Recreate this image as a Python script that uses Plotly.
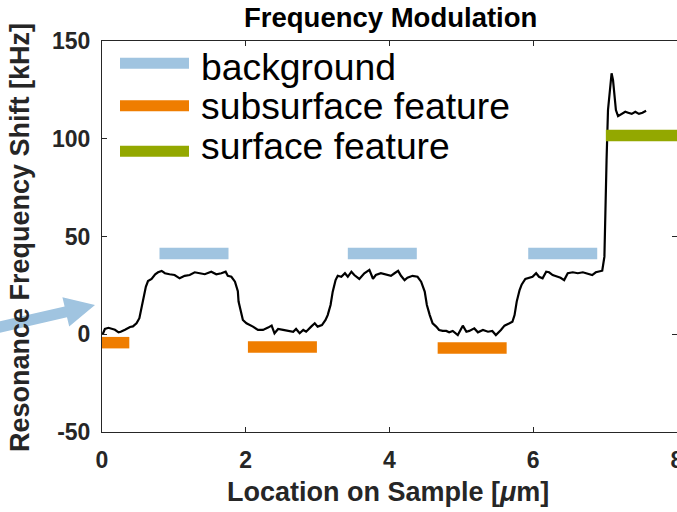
import plotly.graph_objects as go

# ---- data ----
x_loc = [0.01, 0.04, 0.09, 0.13, 0.18, 0.23, 0.26, 0.32, 0.39, 0.43, 0.48, 0.52, 0.55, 0.58, 0.61,
         0.64, 0.69, 0.74, 0.78, 0.83, 0.875, 0.94, 1.01, 1.08, 1.15, 1.22, 1.29, 1.36, 1.43, 1.52,
         1.59, 1.66, 1.72, 1.75, 1.80, 1.85, 1.89, 1.90, 1.93, 1.96, 2.01, 2.06, 2.10, 2.17, 2.24,
         2.31, 2.36, 2.40, 2.45, 2.52, 2.59, 2.66, 2.70, 2.75, 2.80, 2.84, 2.91, 2.96, 3.00, 3.06,
         3.11, 3.14, 3.18, 3.21, 3.25, 3.28, 3.33, 3.38, 3.42, 3.47, 3.51, 3.58, 3.65, 3.72, 3.77,
         3.81, 3.88, 3.95, 4.02, 4.07, 4.12, 4.16, 4.21, 4.25, 4.32, 4.39, 4.44, 4.49, 4.52, 4.56,
         4.60, 4.65, 4.69, 4.74, 4.79, 4.83, 4.88, 4.95, 5.02, 5.07, 5.11, 5.18, 5.23, 5.30, 5.37,
         5.43, 5.48, 5.55, 5.60, 5.67, 5.71, 5.74, 5.77, 5.81, 5.84, 5.89, 5.94, 5.99, 6.04, 6.08,
         6.13, 6.18, 6.22, 6.27, 6.34, 6.38, 6.43, 6.48, 6.55, 6.62, 6.69, 6.75, 6.82, 6.87, 6.92,
         6.96, 6.99, 7.00, 7.02, 7.04, 7.07, 7.09, 7.11, 7.13, 7.15, 7.18, 7.23, 7.28, 7.32, 7.37,
         7.42, 7.47, 7.52, 7.57]
shift_khz = [0.0, 2.7, 3.3, 2.7, 2.3, 1.0, 1.3, 2.3, 3.7, 4.0, 5.6, 8.2, 13.3, 18.4, 24.3,
             27.2, 28.3, 30.7, 31.7, 32.4, 31.2, 30.7, 30.3, 28.6, 29.9, 30.3, 31.7, 31.2, 30.7, 32.0,
             30.7, 31.2, 32.0, 29.9, 29.4, 26.9, 22.0, 16.7, 11.5, 7.3, 5.6, 4.7, 3.9, 2.2, 2.2,
             3.4, 4.4, 0.5, 2.7, 2.2, 1.7, 1.3, 2.7, 0.5, 2.2, 1.3, 3.9, 5.6, 3.9, 4.7,
             7.3, 9.8, 15.0, 21.8, 27.7, 29.9, 29.4, 31.2, 29.4, 32.0, 30.3, 28.3, 31.2, 32.9, 28.4,
             30.3, 31.2, 30.7, 29.9, 31.2, 32.4, 29.9, 27.7, 28.9, 29.9, 29.4, 26.9, 21.8, 15.0, 9.8,
             5.6, 3.9, 2.2, 1.7, 1.7, 1.0, 1.7, -0.4, 4.4, 1.3, 1.7, 3.0, 1.0, 2.2, 1.3,
             1.7, -0.4, 2.2, 4.4, 5.6, 6.4, 9.8, 16.7, 22.6, 25.5, 28.3, 28.9, 29.4, 31.2, 29.4,
             28.6, 32.0, 31.7, 30.3, 29.4, 28.9, 27.7, 31.2, 31.7, 31.2, 31.7, 31.2, 30.3, 31.7, 32.0,
             32.5, 39.7, 63.5, 89.0, 114.7, 126.6, 133.5, 130.0, 121.5, 114.7, 111.6, 112.7, 113.8, 113.3, 112.7,
             113.8, 112.7, 113.3, 114.3]

bg_x0 = [0.80, 3.42, 5.93]
bg_x1 = [1.76, 4.38, 6.89]
bg_y = [41.3, 41.3, 41.3]
sub_x0 = [-0.04, 2.03, 4.67]
sub_x1 = [0.38, 2.99, 5.63]
sub_y = [-4.3, -6.5, -7.0]
surf_x0 = [7.01]
surf_x1 = [8.0]
surf_y = [101.6]

legend_labels = ["background", "subsurface feature", "surface feature"]
x_ticks = [0, 2, 4, 6, 8]
y_ticks = [-50, 0, 50, 100, 150]

title_text = "Frequency Modulation"
x_title = "Location on Sample [<i>μ</i>m]"
y_title = "Resonance Frequency Shift [kHz]"

# ---- styling ----
W, H = 677, 512
ML, MR, MT, MB = 102, 0, 41, 80
PW, PH = W - ML - MR, H - MT - MB
C_BG = "#a0c4e0"
C_SUB = "#ef7d00"
C_SURF = "#93a800"
AX = "#262626"
FONT = "Liberation Sans, Arial, sans-serif"


def P(px, py):
    return (px - ML) / PW, (H - MB - py) / PH


fig = go.Figure()
fig.add_trace(go.Scatter(x=x_loc, y=shift_khz, mode="lines",
                         line=dict(color="black", width=2.2), showlegend=False,
                         hoverinfo="skip"))

shapes = []
for x0s, x1s, ys, col in [(bg_x0, bg_x1, bg_y, C_BG), (sub_x0, sub_x1, sub_y, C_SUB),
                          (surf_x0, surf_x1, surf_y, C_SURF)]:
    for a, b, yv in zip(x0s, x1s, ys):
        shapes.append(dict(type="line", xref="x", yref="y", x0=a, x1=b, y0=yv, y1=yv,
                           line=dict(color=col, width=11.5), layer="above"))

# legend (drawn manually)
leg_line_y = [63.3, 105.8, 151.2]
leg_text_y = [67, 106, 146]
leg_cols = [C_BG, C_SUB, C_SURF]
annotations = []
for lab, ly, ty, col in zip(legend_labels, leg_line_y, leg_text_y, leg_cols):
    x0p, y0p = P(120, ly)
    x1p, _ = P(189, ly)
    shapes.append(dict(type="line", xref="paper", yref="paper", x0=x0p, x1=x1p, y0=y0p, y1=y0p,
                       line=dict(color=col, width=11), layer="above"))
    tx, typ = P(199, ty)
    annotations.append(dict(text=lab, xref="paper", yref="paper", x=tx, y=typ,
                            xanchor="left", yanchor="middle", showarrow=False,
                            font=dict(family=FONT, size=37.3, color="black")))

# arrow (outside the axes, left)
arrow_pts = [(-6.2, 322.8), (64.6, 306.4), (62.4, 297.2), (95, 305), (69.2, 326.4),
             (67.0, 317.2), (-3.8, 333.6)]
path = "M " + " L ".join("%.5f,%.5f" % P(a, b) for a, b in arrow_pts) + " Z"
shapes.append(dict(type="path", xref="paper", yref="paper", path=path,
                   fillcolor=C_BG, line=dict(width=0), layer="above"))

# axis titles as annotations
ytx, yty = P(20, 238)
annotations.append(dict(text=y_title, xref="paper", yref="paper", x=ytx, y=yty,
                        textangle=-90, showarrow=False, xanchor="center", yanchor="middle",
                        font=dict(family=FONT, size=27, color=AX, weight="bold")))
xtx, xty = P(388, 492)
annotations.append(dict(text=x_title, xref="paper", yref="paper", x=xtx, y=xty,
                        showarrow=False, xanchor="center", yanchor="middle",
                        font=dict(family=FONT, size=27, color=AX, weight="bold")))
ttx, tty = P(390, 18)
annotations.append(dict(text=title_text, xref="paper", yref="paper", x=ttx, y=tty,
                        showarrow=False, xanchor="center", yanchor="middle",
                        font=dict(family=FONT, size=27.5, color="black", weight="bold")))

axis_common = dict(showgrid=False, zeroline=False, showline=True, linecolor=AX, linewidth=1,
                   mirror="ticks", ticks="inside", ticklen=5, tickcolor=AX, tickwidth=1,
                   ticklabeloverflow="allow", automargin=False,
                   tickfont=dict(family=FONT, size=23, color=AX, weight="bold"))

fig.update_layout(
    width=W, height=H, autosize=False,
    margin=dict(l=ML, r=MR, t=MT, b=MB, pad=0, autoexpand=False),
    paper_bgcolor="white", plot_bgcolor="white",
    xaxis=dict(range=[0, 8], tickvals=x_ticks, ticktext=[str(v) for v in x_ticks],
               ticklabelstandoff=7, **axis_common),
    yaxis=dict(range=[-50, 150], tickvals=y_ticks, ticktext=[str(v) for v in y_ticks],
               ticklabelstandoff=6, **axis_common),
    shapes=shapes, annotations=annotations, showlegend=False,
)

fig.write_html("out.html")
